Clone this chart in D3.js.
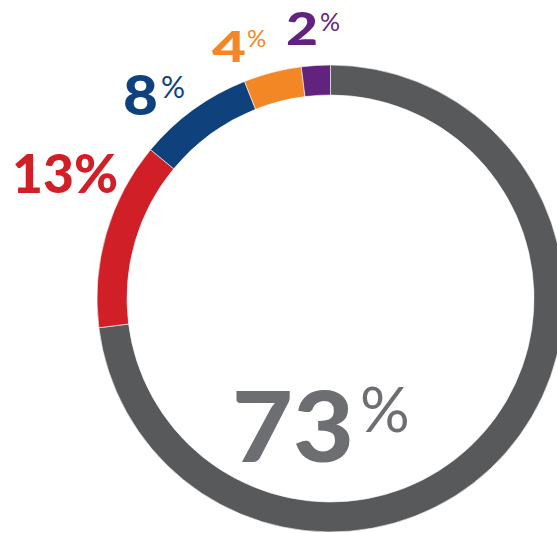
<!DOCTYPE html>
<html>
<head>
<meta charset="utf-8">
<script src="https://cdn.jsdelivr.net/npm/d3@7"></script>
<style>
  html, body { margin: 0; padding: 0; background: #ffffff; }
  svg { display: block; }
  text { font-family: Lato, "Open Sans", "DejaVu Sans", sans-serif; }
</style>
</head>
<body>
<div id="chart"></div>
<script>
// ---- data ----
const categories = ["Gray", "Red", "Blue", "Orange", "Purple"];
const values = [73, 13, 8, 4, 2];
const labels = ["73", "13", "8", "4", "2"];
const colors = ["#58595b", "#d01f26", "#0f427c", "#f38725", "#62237f"];
const labelColors = ["#6d6e71", "#d01f26", "#0f427c", "#f38725", "#62237f"];

// ---- layout (positions / sizes, not data) ----
const W = 557, H = 533;
const cx = 330.5, cy = 298.5, outerR = 233.5, innerR = 203.5;
// number text: x, baseline y, font size, rendered width; percent sign: x, baseline y, size, weight
const labelLayout = [
  { x: 232, y: 462, size: 97, w: 122, px: 360, py: 432, psize: 62, pweight: 400 },
  { x: 12,  y: 193, size: 53, w: 106, inline: true },
  { x: 123, y: 115, size: 55, w: 35, px: 161, py: 98, psize: 30, pweight: 400 },
  { x: 212, y: 62,  size: 42, w: 34, px: 247, py: 47, psize: 24, pweight: 400 },
  { x: 286, y: 45,  size: 46, w: 32, px: 320, py: 31, psize: 25, pweight: 400 }
];

const svg = d3.select("#chart").append("svg")
  .attr("width", W).attr("height", H);

const pie = d3.pie().sort(null).value(d => d);
const arc = d3.arc().innerRadius(innerR).outerRadius(outerR);

svg.append("g")
  .attr("transform", `translate(${cx},${cy})`)
  .selectAll("path")
  .data(pie(values))
  .join("path")
  .attr("d", arc)
  .attr("fill", (d, i) => colors[i])
  .attr("stroke", "#ffffff")
  .attr("stroke-width", 0.6);

const lg = svg.append("g");
labels.forEach((lab, i) => {
  const L = labelLayout[i];
  const t = lg.append("text")
    .attr("fill", labelColors[i])
    .attr("font-weight", 900);
  if (L.inline) {
    t.attr("x", L.x).attr("y", L.y).attr("font-size", L.size)
      .attr("textLength", L.w).attr("lengthAdjust", "spacingAndGlyphs")
      .text(lab + "%");
  } else {
    t.append("tspan").attr("x", L.x).attr("y", L.y).attr("font-size", L.size)
      .attr("textLength", L.w).attr("lengthAdjust", "spacingAndGlyphs")
      .text(lab);
    t.append("tspan").attr("x", L.px).attr("y", L.py).attr("font-size", L.psize)
      .attr("font-weight", L.pweight).text("%");
  }
});
</script>
</body>
</html>
